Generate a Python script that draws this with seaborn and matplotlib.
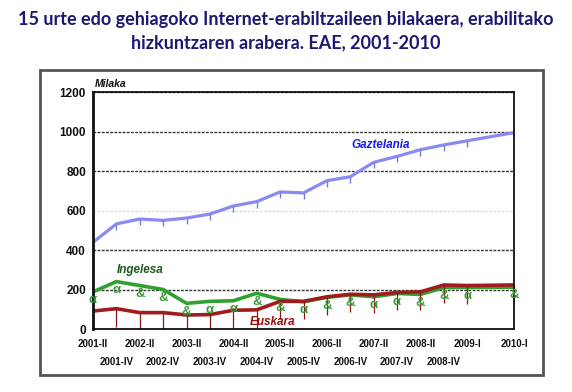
import matplotlib
matplotlib.use("Agg")
import pandas as pd
import matplotlib.pyplot as plt
from matplotlib.path import Path
from matplotlib.patches import Rectangle
import seaborn as sns

# ---- datuak (milaka pertsona) ----
periods = ["2001-II", "2001-IV", "2002-II", "2002-IV", "2003-II", "2003-IV",
           "2004-II", "2004-IV", "2005-II", "2005-IV", "2006-II", "2006-IV",
           "2007-II", "2007-IV", "2008-II", "2008-IV", "2009-I", "2010-I"]
# ardatzeko tarteak: 2009-I eta 2010-I artean hutsune bat dago
axis_slots = periods[:17] + [""] + ["2010-I"]

gaztelania = [439, 532, 557, 550, 562, 582, 623, 645, 694, 689,
              751, 771, 844, 874, 908, 932, 953, 994]
ingelesa = [188, 240, 220, 200, 130, 140, 143, 181, 150, 138,
            160, 173, 163, 180, 175, 210, 210, 212]
euskara = [91, 103, 83, 83, 71, 73, 95, 97, 140, 140,
           163, 176, 173, 185, 188, 223, 220, 223]

# ingelesaren markak (jatorrizkoan letra-glifo gisa agertzen dira)
ingelesa_glyph = ["α", "α", "&", "&", "&", "α", "α", "&", "&", "α",
                  "&", "&", "α", "α", "&", "&", "α", "&"]

sns.set_theme(style="white")
plt.rcParams["font.family"] = ["Liberation Sans", "DejaVu Sans"]

df = pd.DataFrame({"periodoa": periods, "Gaztelania": gaztelania,
                   "Ingelesa": ingelesa, "Euskara": euskara})
df["slot"] = [axis_slots.index(p) for p in periods]

HANG = Path([(0, 0), (0, -1)], [Path.MOVETO, Path.LINETO])

fig = plt.figure(figsize=(5.72, 3.92), dpi=100)
ax = fig.add_axes([0.1626, 0.1607, 0.736, 0.6046])

sns.lineplot(data=df, x="slot", y="Gaztelania", ax=ax, color="#8a8af2", lw=2.3,
             marker=HANG, markersize=8, markeredgecolor="#7a7ae0",
             markeredgewidth=1)
sns.lineplot(data=df, x="slot", y="Ingelesa", ax=ax, color="#30a030", lw=2.6)
sns.lineplot(data=df, x="slot", y="Euskara", ax=ax, color="#a01c1c", lw=2.6,
             marker=HANG, markersize=26, markeredgecolor="#8a1818",
             markeredgewidth=0.9)

for s, v, g in zip(df["slot"], ingelesa, ingelesa_glyph):
    ax.annotate(g, (s, v), xytext=(0, -6), textcoords="offset points",
                ha="center", va="center", color="#3a9a3a", fontsize=9.5,
                fontweight="bold")

# ---- ardatzak ----
ax.set_xlim(0, 18)
ax.set_ylim(0, 1200)
yt = list(range(0, 1201, 200))
ax.set_yticks(yt, [str(t) for t in yt], fontsize=8.5, fontweight="bold")
major = list(range(0, 17, 2)) + [18]
minor = list(range(1, 16, 2))
ax.set_xticks(major, [axis_slots[i] for i in major], fontsize=7, fontweight="bold")
ax.set_xticks(minor, [axis_slots[i] for i in minor], minor=True,
              fontsize=7, fontweight="bold")
ax.tick_params(axis="x", which="major", length=0, pad=7, colors="#111")
ax.tick_params(axis="x", which="minor", length=0, pad=20, colors="#111")
ax.tick_params(axis="y", length=0, pad=5, colors="#111")
ax.set_xlabel("")
ax.set_ylabel("")

ax.yaxis.grid(True, linestyle=(0, (2, 1)), color="#333333", lw=1)
for gl, t in zip(ax.get_ygridlines(), yt):
    if t == 600:
        gl.set_color("#dddddd")
for sp in ax.spines.values():
    sp.set_color("#111111")
    sp.set_linewidth(1.3)
ax.spines["left"].set_linewidth(2)

ax.text(0.005, 1.012, "Milaka", transform=ax.transAxes, fontsize=7.5,
        style="italic", fontweight="bold", va="bottom", color="#111")
ax.text(12.3, 930, "Gaztelania", color="#1a1ae6", fontsize=8.5,
        style="italic", fontweight="bold", ha="center", va="center")
ax.text(2.0, 299, "Ingelesa", color="#1f5a1f", fontsize=8.5,
        style="italic", fontweight="bold", ha="center", va="center")
ax.text(7.7, 33, "Euskara", color="#9a1010", fontsize=8.5,
        style="italic", fontweight="bold", ha="center", va="center")

fig.patches.append(Rectangle((0.0699, 0.0434), 0.8791, 0.778,
                             transform=fig.transFigure, fill=False,
                             edgecolor="#555555", lw=2))

title_kw = dict(ha="center", va="center", fontsize=13, color="#1d1870",
                family="Lato", fontweight="bold")
fig.text(0.5, 0.951, "15 urte edo gehiagoko Internet-erabiltzaileen bilakaera, erabilitako",
         **title_kw)
fig.text(0.5, 0.89, "hizkuntzaren arabera. EAE, 2001-2010", **title_kw)

fig.savefig("out.png", dpi=100)
